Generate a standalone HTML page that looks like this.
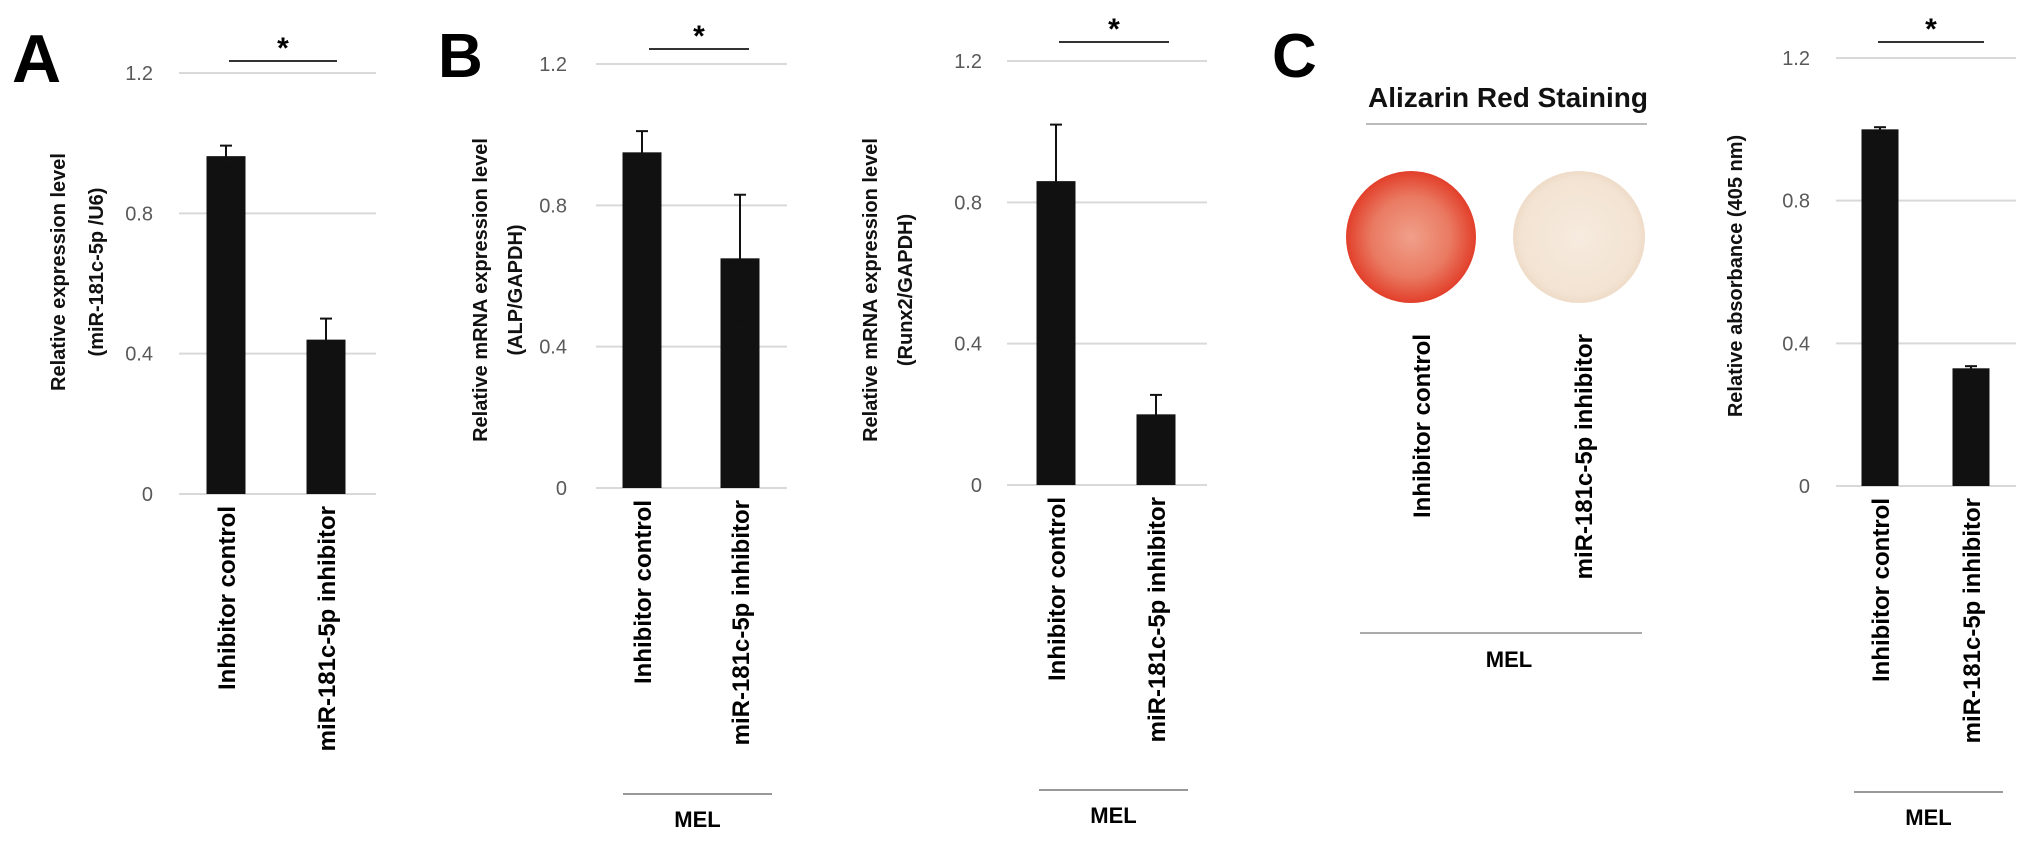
<!DOCTYPE html>
<html><head><meta charset="utf-8"><style>
html,body{margin:0;padding:0;background:#fff}
svg{display:block}
text{font-family:"Liberation Sans",sans-serif}
</style></head><body>
<svg id="fig" width="2031" height="850" viewBox="0 0 2031 850" xmlns="http://www.w3.org/2000/svg">
<defs>
<radialGradient id="redDish" cx="50%" cy="50%" r="55%">
<stop offset="0%" stop-color="#f0a08a"/><stop offset="55%" stop-color="#ea7a62"/><stop offset="100%" stop-color="#e0301c"/>
</radialGradient>
<radialGradient id="beigeDish" cx="50%" cy="50%" r="55%">
<stop offset="0%" stop-color="#f6ebdf"/><stop offset="80%" stop-color="#f3e3d2"/><stop offset="100%" stop-color="#ead5c0"/>
</radialGradient>
</defs>
<g id="static">
<text x="12" y="82" font-size="68" font-weight="bold">A</text>
<text x="438" y="77" font-size="62" font-weight="bold">B</text>
<text x="1272" y="77" font-size="62" font-weight="bold">C</text>
<text x="1508" y="107" font-size="28" font-weight="bold" text-anchor="middle" fill="#111">Alizarin Red Staining</text>
<line x1="1366" y1="124" x2="1647" y2="124" stroke="#bbb" stroke-width="2"/>
<ellipse cx="1411" cy="237" rx="65" ry="66" fill="url(#redDish)"/>
<ellipse cx="1579" cy="237" rx="66" ry="66" fill="url(#beigeDish)"/>
<text transform="translate(1430,334) rotate(-90)" font-size="24" font-weight="bold" text-anchor="end">Inhibitor control</text>
<text transform="translate(1592,334) rotate(-90)" font-size="24" font-weight="bold" text-anchor="end">miR-181c-5p inhibitor</text>
<line x1="1360" y1="633" x2="1642" y2="633" stroke="#aaa" stroke-width="2"/>
<text x="1509" y="667" font-size="22" font-weight="bold" text-anchor="middle">MEL</text>
</g>
</svg>
<script>
const categories = ["Inhibitor control", "miR-181c-5p inhibitor"];
const yTicks = [0, 0.4, 0.8, 1.2];
const tickLabels = ["0", "0.4", "0.8", "1.2"];
const valuesA = [0.963, 0.44];
const errorsA = [0.03, 0.06];
const valuesALP = [0.95, 0.65];
const errorsALP = [0.06, 0.18];
const valuesRunx2 = [0.86, 0.20];
const errorsRunx2 = [0.16, 0.055];
const valuesAbs = [1.0, 0.33];
const errorsAbs = [0.006, 0.006];

const NS = "http://www.w3.org/2000/svg";
const fig = document.getElementById("fig");
function mk(tag, attrs, parent) {
  const e = document.createElementNS(NS, tag);
  for (const k in attrs) e.setAttribute(k, attrs[k]);
  (parent || fig).appendChild(e);
  return e;
}
function drawChart(id, cfg, values, errors) {
  const g = mk("g", {});
  
  
  const ymax = 1.2;
  const y = v => cfg.y0 - (v / ymax) * (cfg.y0 - cfg.yTop);
  yTicks.forEach((t, i) => {
    const gl = mk("line", {x1: cfg.gx1, x2: cfg.gx2, y1: y(t), y2: y(t), stroke: "#d9d9d9", "stroke-width": 2}, g);
    
    
    const tl = mk("text", {x: cfg.tickX, y: y(t) + 7, "font-size": 20, fill: "#595959", "text-anchor": "end"}, g);
    tl.textContent = tickLabels[i];
    
    
  });
  const bw = cfg.bw;
  values.forEach((v, i) => {
    const cx = cfg.cx[i];
    const r = mk("rect", {x: cx - bw / 2, y: y(v), width: bw, height: y(0) - y(v), fill: "#111"}, g);
    
    
    const e = errors[i];
    const eg = mk("g", {stroke: "#111", "stroke-width": 2}, g);
    
    
    mk("line", {x1: cx, x2: cx, y1: y(v + e), y2: y(v - e)}, eg);
    mk("line", {x1: cx - 6, x2: cx + 6, y1: y(v + e), y2: y(v + e)}, eg);
    mk("line", {x1: cx - 6, x2: cx + 6, y1: y(v - e), y2: y(v - e)}, eg);
    const xl = mk("text", {transform: `translate(${cx + 9},${cfg.y0 + 12}) rotate(-90)`, "font-size": 24, "font-weight": "bold", "text-anchor": "end"}, g);
    xl.textContent = categories[i];
    
    
  });
  const sl = mk("line", {x1: cfg.sig[0], x2: cfg.sig[1], y1: cfg.sigY, y2: cfg.sigY, stroke: "#333", "stroke-width": 2}, g);
  
  
  const st = mk("text", {x: (cfg.sig[0] + cfg.sig[1]) / 2, y: cfg.sigY - 3, "font-size": 30, "font-weight": "bold", "text-anchor": "middle"}, g);
  st.textContent = "*";
  
  
  cfg.title.forEach((line, i) => {
    const tt = mk("text", {transform: `translate(${cfg.titleX[i]},${cfg.titleY}) rotate(-90)`, "font-size": 20, "font-weight": "bold", "text-anchor": "middle", fill: "#111"}, g);
    tt.textContent = line;
    
    
  });
  if (cfg.mel) {
    const ml = mk("line", {x1: cfg.mel[0], x2: cfg.mel[1], y1: cfg.melY, y2: cfg.melY, stroke: "#999", "stroke-width": 2}, g);
    
    
    const mt = mk("text", {x: (cfg.mel[0] + cfg.mel[1]) / 2, y: cfg.melY + 33, "font-size": 22, "font-weight": "bold", "text-anchor": "middle"}, g);
    mt.textContent = "MEL";
    
    
  }
}
drawChart("expression-a", {y0: 494, yTop: 73, gx1: 179, gx2: 376, tickX: 153, cx: [226, 326], bw: 39, sig: [229, 337], sigY: 61, title: ["Relative expression level", "(miR-181c-5p /U6)"], titleX: [65, 103], titleY: 272}, valuesA, errorsA);
drawChart("alp-b", {y0: 488, yTop: 64, gx1: 596, gx2: 787, tickX: 567, cx: [642, 740], bw: 39, sig: [649, 749], sigY: 49, title: ["Relative mRNA expression level", "(ALP/GAPDH)"], titleX: [487, 522], titleY: 290, mel: [623, 772], melY: 794}, valuesALP, errorsALP);
drawChart("runx2-b", {y0: 485, yTop: 61, gx1: 1007, gx2: 1207, tickX: 982, cx: [1056, 1156], bw: 39, sig: [1059, 1169], sigY: 42, title: ["Relative mRNA expression level", "(Runx2/GAPDH)"], titleX: [877, 912], titleY: 290, mel: [1039, 1188], melY: 790}, valuesRunx2, errorsRunx2);
drawChart("absorbance-c", {y0: 486, yTop: 58, gx1: 1836, gx2: 2016, tickX: 1810, cx: [1880, 1971], bw: 37, sig: [1878, 1984], sigY: 42, title: ["Relative absorbance (405 nm)"], titleX: [1742], titleY: 276, mel: [1854, 2003], melY: 792}, valuesAbs, errorsAbs);
</script>
</body></html>
